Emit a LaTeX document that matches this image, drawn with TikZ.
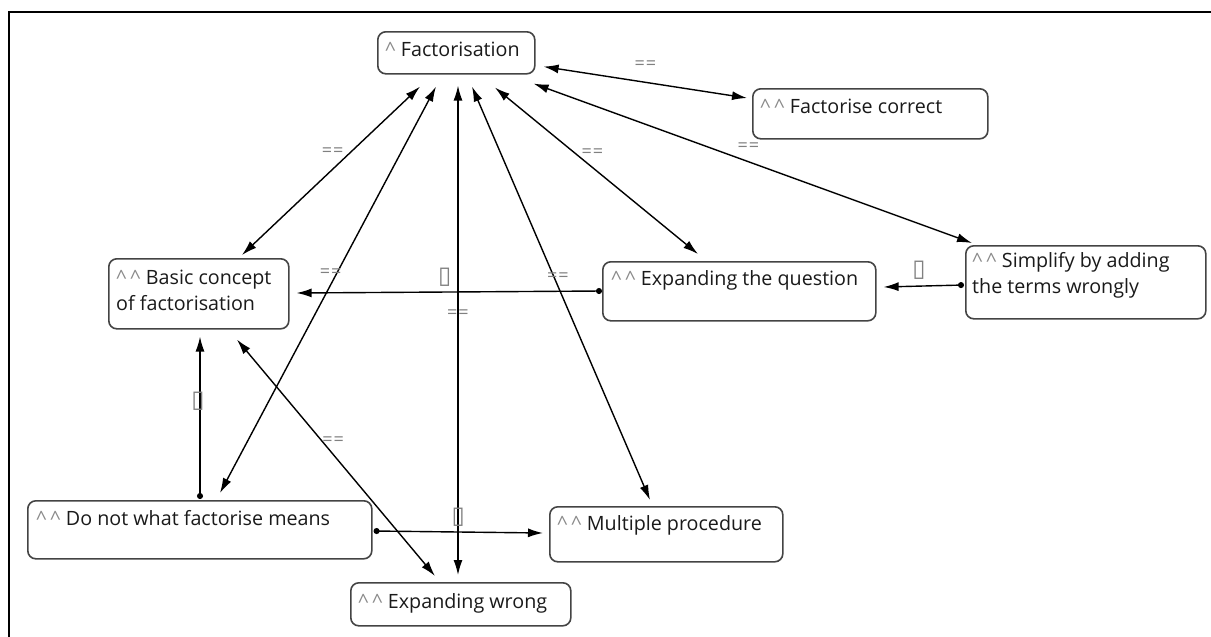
\documentclass[tikz,border=0pt]{standalone}
\usepackage{fontspec}
\setmainfont{Open Sans}
\newfontfamily\symfont{DejaVu Sans}
\usetikzlibrary{arrows.meta,calc}
\definecolor{txt}{HTML}{1A1A1A}
\definecolor{boxgray}{HTML}{444444}
\definecolor{caretgray}{HTML}{8A8A8A}
\definecolor{lblgray}{HTML}{808080}
% caret prefixes of the concept names
\newcommand\onecaret{\textcolor{caretgray}{\textasciicircum}\ }
\newcommand\twocarets{\textcolor{caretgray}{\textasciicircum\,\textasciicircum}\ }
\newcommand\tofu{{\symfont\fontsize{24}{26}\selectfont\char"25AF}}
\newcommand\eqeq{=\kern1pt=}
\newcommand\twolines[2]{\begin{tabular}[t]{@{}l@{}}#1\\#2\end{tabular}}
\begin{document}
\begin{tikzpicture}[x=1pt,y=-1pt,
  cbox/.style={draw=boxgray, line width=1.6pt, rounded corners=8pt, anchor=north west, inner sep=0pt},
  ctext/.style={anchor=base west, inner sep=0pt, text=txt, font=\fontsize{19.7}{26.5}\selectfont},
  lbl/.style={text=lblgray, font=\fontsize{18}{20}\selectfont, inner sep=0pt},
  link/.style={line width=1.4pt, draw=black},
  both/.style={link, {Latex[length=15pt,width=9pt]}-{Latex[length=15pt,width=9pt]}},
  dotarrow/.style={link, {Circle[length=6pt]}-{Latex[length=15pt,width=9pt]}}
]
\useasboundingbox (0,0) rectangle (1211,637);
\fill[white] (0,0) rectangle (1211,637);
% outer frame (top and left edges)
\draw[line width=2pt] (9,650) -- (9,12) -- (1230,12);

% concept boxes
\node[cbox, minimum width=157pt, minimum height=42pt] (fact)  at (377,31)  {};
\node[cbox, minimum width=235pt, minimum height=50pt] (fcor)  at (752,88)  {};
\node[cbox, minimum width=180pt, minimum height=70pt] (basic) at (108,258) {};
\node[cbox, minimum width=273pt, minimum height=59pt] (expq)  at (602,261) {};
\node[cbox, minimum width=240pt, minimum height=73pt] (simp)  at (965,245) {};
\node[cbox, minimum width=344pt, minimum height=58pt] (donot) at (27,500)  {};
\node[cbox, minimum width=233pt, minimum height=55pt] (mult)  at (549,506) {};
\node[cbox, minimum width=220pt, minimum height=43pt] (expw)  at (350,582) {};

% box texts
\node[ctext] (fact-t)  at ($(fact.north west)+(8,25)$)  {\onecaret Factorisation};
\node[ctext] (fcor-t)  at ($(fcor.north west)+(8,25)$)  {\twocarets Factorise correct};
\node[ctext] (basic-t) at ($(basic.north west)+(8,26)$) {\twolines{\twocarets Basic concept}{of factorisation}};
\node[ctext] (expq-t)  at ($(expq.north west)+(9,24)$)  {\twocarets Expanding the question};
\node[ctext] (simp-t)  at ($(simp.north west)+(7,22)$)  {\twolines{\twocarets Simplify by adding}{the terms wrongly}};
\node[ctext] (donot-t) at ($(donot.north west)+(9,25)$) {\twocarets Do not what factorise means};
\node[ctext] (mult-t)  at ($(mult.north west)+(8,24)$)  {\twocarets Multiple procedure};
\node[ctext] (expw-t)  at ($(expw.north west)+(8,26)$)  {\twocarets Expanding wrong};

% two-way links
\draw[both] ($(fact.south east)+(8,-8)$) -- node[lbl, pos=0.5, yshift=17pt] (l1) {\eqeq} ($(fcor.north west)+(-5,10)$);
\draw[both] ($(fact.south east)+(-2,9)$) -- node[lbl, pos=0.49, yshift=15pt] (l2) {\eqeq} ($(simp.north west)+(7,-2)$);
\draw[both] ($(fact.south west)+(118,13)$) -- node[lbl, pos=0.48, yshift=14pt] (l3) {\eqeq} ($(expq.north west)+(96,-7)$);
\draw[both] ($(fact.south west)+(95,12)$) -- node[lbl, pos=0.46, xshift=4pt] (l4) {\eqeq} ($(mult.north west)+(101,-6)$);
\draw[both] ($(fact.south west)+(81,11)$) -- node[lbl, pos=0.466] (l5) {\eqeq} ($(expw.north west)+(108,-7)$);
\draw[both] ($(fact.south west)+(59,12)$) -- node[lbl, pos=0.46, xshift=-6pt] (l6) {\eqeq} ($(donot.north west)+(193,-7)$);
\draw[both] ($(fact.south west)+(43,12)$) -- node[lbl, pos=0.39, xshift=-18pt] (l7) {\eqeq} ($(basic.north west)+(134,-3)$);
\draw[both] ($(basic.south west)+(129,10)$) -- node[lbl, pos=0.43, xshift=11pt] (l8) {\eqeq} ($(expw.north west)+(85,-6)$);

% one-way links
\draw[dotarrow] ($(expq.north west)+(0,30)$) -- node[lbl, pos=0.515, yshift=15pt] (l9) {\tofu} ($(basic.north east)+(7,35)$);
\draw[dotarrow] ($(simp.north west)+(-1,40)$) -- node[lbl, pos=0.56, yshift=16pt] (l10) {\tofu} ($(expq.north east)+(7,26)$);
\draw[dotarrow] ($(donot.north west)+(173,-1)$) -- node[lbl, pos=0.6, xshift=-2pt] (l11) {\tofu} ($(basic.south west)+(92,7)$);
\draw[dotarrow] ($(donot.north east)+(1,31)$) -- node[lbl, pos=0.5, yshift=15pt] (l12) {\tofu} ($(mult.north west)+(-6,27)$);
\end{tikzpicture}
\end{document}
